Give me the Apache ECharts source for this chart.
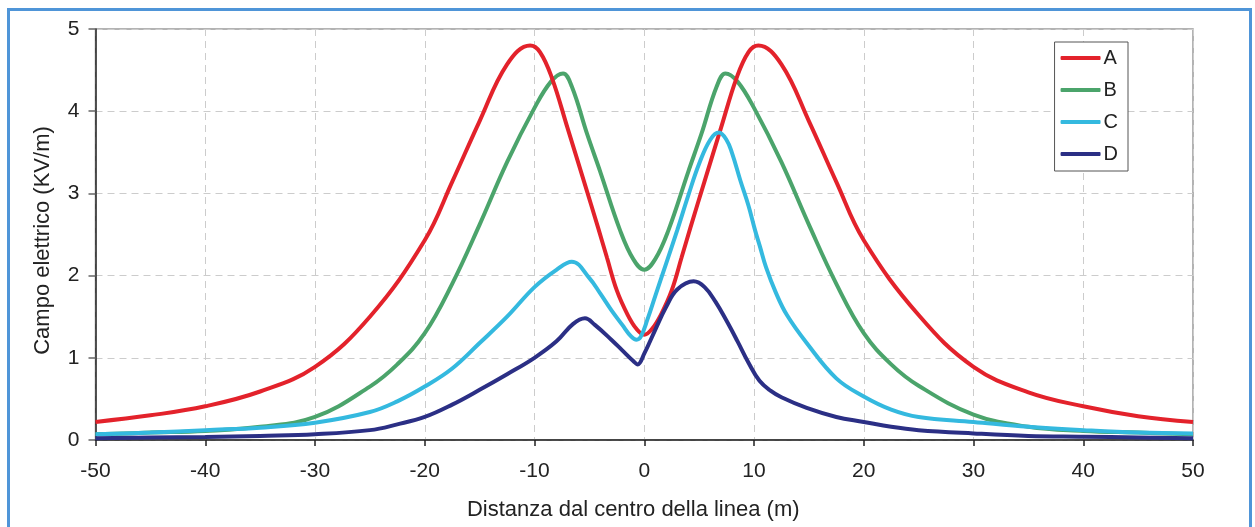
<!DOCTYPE html>
<html>
<head>
<meta charset="utf-8">
<script src="https://cdn.jsdelivr.net/npm/echarts@6/dist/echarts.min.js"></script>
<style>
html,body{margin:0;padding:0;background:#fff;}
#chart{width:1255px;height:527px;}
</style>
</head>
<body>
<div id="chart"></div>
<script>
// Distances (m) and field values (kV/m)
var xA = [-50,-45,-40,-35,-30,-25,-20,-17.5,-15,-12.5,-10.4,-9.5,-8.4,-7,-5.5,-4.2,-3.4,-2.5,-1.5,-0.7,0,0.7,1.5,2.5,3.4,4.2,5.5,7,8.4,9.5,10.4,12.5,15,17.5,20,25,30,35,40,45,50];
var yA = [0.22,0.30,0.41,0.59,0.89,1.50,2.43,3.14,3.88,4.57,4.80,4.72,4.40,3.80,3.15,2.58,2.22,1.82,1.52,1.35,1.28,1.35,1.52,1.82,2.22,2.58,3.15,3.80,4.40,4.72,4.80,4.57,3.88,3.14,2.43,1.52,0.89,0.58,0.41,0.29,0.22];

var xB = [-50,-45,-40,-35,-30,-25,-22.5,-20,-17.5,-15,-12.5,-10,-8.5,-7.4,-6.6,-5.2,-4,-2.2,-1,0,1,2.2,4,5.2,6.6,7.4,8.5,10,12.5,15,17.5,20,22.5,25,30,35,40,45,50];
var yB = [0.07,0.09,0.11,0.16,0.28,0.65,0.92,1.30,1.90,2.62,3.38,4.04,4.36,4.46,4.30,3.72,3.26,2.55,2.20,2.07,2.20,2.55,3.26,3.72,4.30,4.46,4.36,4.04,3.38,2.62,1.90,1.30,0.92,0.66,0.31,0.16,0.11,0.09,0.07];

var xC = [-50,-45,-40,-35,-30,-25,-22.5,-20,-17.5,-15,-12.5,-10,-8,-6.6,-5,-4,-3,-2,-1.2,-0.7,-0.3,0.3,1,2,3,4,5,6,6.8,7.5,8,8.75,9.5,10.1,10.55,11.1,12,13,14.8,17.5,20,22.5,25,30,35,40,45,50];
var yC = [0.07,0.09,0.12,0.15,0.21,0.34,0.47,0.65,0.87,1.18,1.50,1.86,2.07,2.17,1.97,1.78,1.58,1.40,1.26,1.22,1.26,1.47,1.75,2.15,2.55,2.97,3.36,3.65,3.74,3.65,3.49,3.16,2.85,2.55,2.35,2.10,1.79,1.52,1.18,0.75,0.53,0.37,0.28,0.22,0.16,0.12,0.09,0.08];

var xD = [-50,-45,-40,-35,-30,-25,-22.5,-20,-17.5,-15,-12.5,-10,-8,-6.5,-5.4,-4.5,-3,-2,-1,-0.6,0,1,2,3,4.5,5.5,6.5,7.5,8.5,9.5,10.5,11.5,12.5,14.8,17.5,20,22.5,25,30,35,40,45,50];
var yD = [0.02,0.03,0.035,0.05,0.07,0.12,0.19,0.28,0.43,0.61,0.80,1.00,1.20,1.41,1.48,1.40,1.22,1.09,0.96,0.92,1.05,1.34,1.62,1.83,1.93,1.86,1.68,1.45,1.20,0.94,0.72,0.60,0.52,0.39,0.28,0.22,0.16,0.12,0.08,0.05,0.04,0.03,0.02];

var seriesNames = ['A','B','C','D'];
var seriesColors = ['#e3222b','#4ba46b','#34b9df','#2b2f85'];
var xTicks = [-50,-40,-30,-20,-10,0,10,20,30,40,50];

function pairs(xs, ys){ return xs.map(function(x,i){ return [x, ys[i]]; }); }
var allData = [pairs(xA,yA), pairs(xB,yB), pairs(xC,yC), pairs(xD,yD)];

var chart = echarts.init(document.getElementById('chart'), null, {renderer:'canvas'});
var font = '"Liberation Sans", Arial, sans-serif';
var option = {
  backgroundColor: '#ffffff',
  animation: false,
  graphic: [{
    type: 'rect', z: 100, silent: true,
    shape: {x: 8.5, y: 9.5, width: 1242, height: 540},
    style: {fill: 'none', stroke: '#4f95d8', lineWidth: 3}
  }],
  grid: {left: 95.5, right: 62, top: 29, bottom: 87, show: true, borderColor: '#9a9a9a', borderWidth: 1.5, backgroundColor: 'transparent'},
  legend: {
    right: 127, top: 42, orient: 'vertical',
    data: seriesNames,
    itemWidth: 40, itemHeight: 4, itemGap: 12,
    icon: 'roundRect',
    padding: [6, 10, 7, 6],
    borderColor: '#555', borderWidth: 1, backgroundColor: '#fff',
    textStyle: {fontFamily: font, fontSize: 20, color: '#222', lineHeight: 20, padding: [0,0,0,-2]}
  },
  xAxis: {
    type: 'value', min: -50, max: 50, interval: 10,
    name: 'Distanza dal centro della linea (m)', nameLocation: 'middle', nameGap: 59,
    nameTextStyle: {fontFamily: font, fontSize: 22, color: '#222', padding: [0, 22, 0, 0]},
    axisLine: {lineStyle: {color: '#222', width: 1.5}, onZero: false},
    axisTick: {show: true, inside: false, length: 6, lineStyle: {color: '#222', width: 1.5}},
    axisLabel: {fontFamily: font, fontSize: 21, color: '#222', margin: 21,
      formatter: function(v){ return xTicks.indexOf(v) >= 0 ? String(v) : ''; }},
    splitLine: {show: true, lineStyle: {color: '#cccccc', type: [7, 5], width: 1}}
  },
  yAxis: {
    type: 'value', min: 0, max: 5, interval: 1,
    name: 'Campo elettrico (KV/m)', nameLocation: 'middle', nameGap: 42,
    nameTextStyle: {fontFamily: font, fontSize: 22, color: '#222', padding: [0, 12, 0, 0]},
    axisLine: {show: true, onZero: false, lineStyle: {color: '#222', width: 1.5}},
    axisTick: {show: true, inside: false, length: 7, lineStyle: {color: '#666', width: 1.5}},
    axisLabel: {fontFamily: font, fontSize: 21, color: '#222', margin: 16},
    splitLine: {show: true, lineStyle: {color: '#cccccc', type: [7, 5], width: 1}}
  },
  series: seriesNames.map(function(n, i){
    return {
      name: n, type: 'line', data: allData[i], smooth: 0.4,
      showSymbol: false, symbol: 'none', clip: true,
      lineStyle: {color: seriesColors[i], width: 4},
      itemStyle: {color: seriesColors[i]}
    };
  })
};
option.series[0].z = 7; option.series[1].z = 6; option.series[2].z = 8; option.series[3].z = 9;
chart.setOption(option);
</script>
</body>
</html>
